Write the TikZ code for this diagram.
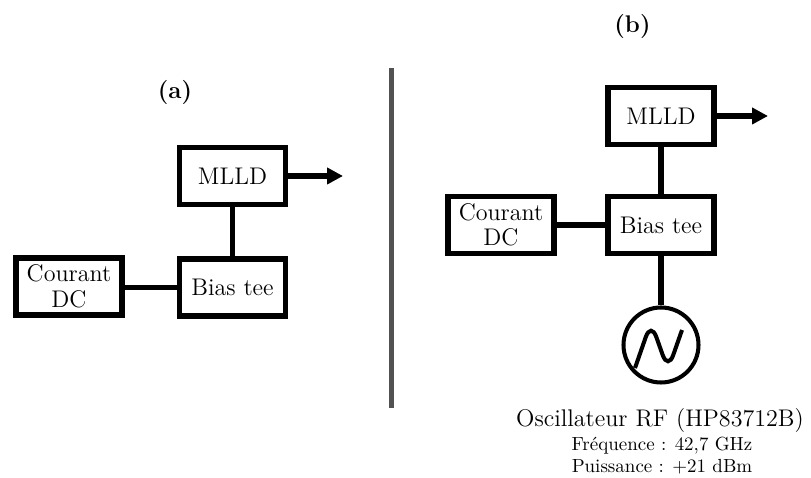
\documentclass[tikz,border=0pt]{standalone}
\usepackage{tikz}
\usetikzlibrary{shapes,positioning,calc,arrows.meta}

\begin{document}
\begin{tikzpicture}[thick]

	\tikzstyle{box1}=[draw=black, line width=3.1pt, minimum width=2.12cm, minimum height=1.14cm, inner sep=0pt, align=center, font=\fontsize{13.7}{14.5}\selectfont]
	\tikzstyle{line1}=[line width=2.9pt]
	\tikzstyle{arrow1}=[-{Triangle[length=9pt,width=9pt]}, line width=2.9pt]
	\tikzstyle{sep1}=[line width=2.3pt, draw=black!68]
	\tikzstyle{circle1}=[circle, draw=black, line width=2.3pt, minimum size=1.5cm, inner sep=0pt]
	\tikzstyle{node1}=[text=black, font=\fontsize{13.7}{15}\selectfont\bfseries];
	\tikzstyle{node2}=[text=black, font=\fontsize{13.7}{15}\selectfont, anchor=base];
	\tikzstyle{node3}=[text=black, font=\fontsize{10.8}{12}\selectfont, anchor=base];

	\useasboundingbox (0,0) rectangle (16.22,9.56);

	% (a)
	\node [node1] (labA) at (3.50,7.71){(a)};
	\node [box1] (mlldA) at (4.65,6.04){MLLD};
	\node [box1] (biasA) at (4.65,3.81){Bias tee};
	\node [box1] (dcA) at (1.38,3.83){Courant\\DC};
	\coordinate (outA) at (6.86,6.06);
	\draw [arrow1] (mlldA.east) -- (outA |- mlldA.east);
	\draw [line1] (mlldA) -- (biasA);
	\draw [line1] (dcA.east |- biasA) -- (biasA);

	% separation
	\coordinate (sepT) at (7.83,8.20);
	\coordinate (sepB) at (7.83,1.40);
	\draw [sep1] (sepT) -- (sepB);

	% (b)
	\node [node1] (labB) at (12.65,9.02){(b)};
	\node [box1] (mlldB) at (13.22,7.24){MLLD};
	\node [box1] (biasB) at (13.22,5.06){Bias tee};
	\node [box1] (dcB) at (10.02,5.06){Courant\\DC};
	\coordinate (outB) at (15.36,7.26);
	\draw [arrow1] (mlldB.east) -- (outB |- mlldB.east);
	\draw [line1] (mlldB) -- (biasB);
	\draw [line1] (dcB) -- (biasB);

	\node [circle1] (osc) at (13.22,2.66){};
	\draw [line1] (biasB) -- (osc);
	\begin{scope}[shift={(osc.center)}]
		\draw [line width=2.3pt, rounded corners=9pt] (-0.52,-0.46) -- (-0.20,0.46) -- (0.14,-0.50) -- (0.42,0.30);
	\end{scope}

	\node [node2] (oscT) at (13.20,1.02){Oscillateur RF (HP83712B)};
	\node [node3] (freq) at (13.24,0.54){Fréquence : 42,7 GHz};
	\node [node3] (puis) at (13.24,0.10){Puissance : +21 dBm};

\end{tikzpicture}
\end{document}
